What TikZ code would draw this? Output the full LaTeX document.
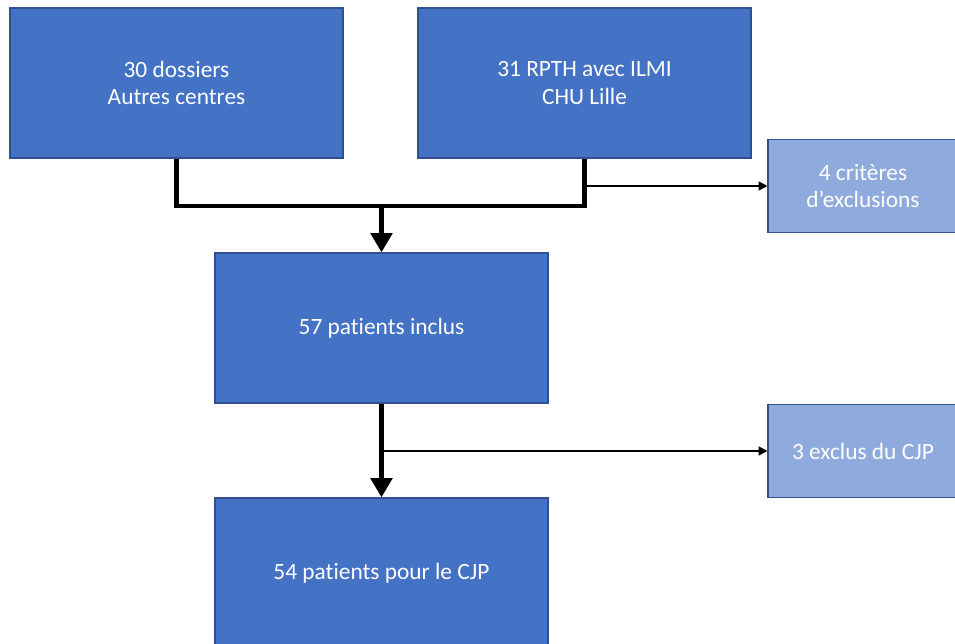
\documentclass[tikz,border=0pt]{standalone}
\usepackage{fontspec}
\setmainfont{Carlito}[Ligatures=NoCommon]
\usetikzlibrary{arrows.meta}

\definecolor{darkbox}{HTML}{4472C4}
\definecolor{lightbox}{HTML}{8FAADC}
\definecolor{boxline}{HTML}{2F528F}

\tikzset{
	mainbox/.style={shape=rectangle, draw=boxline, line width=0.6pt, fill=darkbox, text=white,
		minimum width=6.66cm, minimum height=3cm, align=center, font=\fontsize{13.3}{15.4}\selectfont},
	sidebox/.style={mainbox, fill=lightbox, minimum width=3.8cm, minimum height=1.86cm},
	bigline/.style={line width=2.8pt, line join=miter},
	bigarrow/.style={bigline, -{Triangle[length=11pt, width=12pt]}},
	smallarrow/.style={line width=1pt, -{Triangle[length=5pt, width=5pt]}}
}

\begin{document}
\begin{tikzpicture}
	\useasboundingbox (0,0) rectangle (19.1,12.88);
	
	\node[mainbox] (autres) at (3.53, 11.22) {30 dossiers\\Autres centres};
	\node[mainbox] (lille) at (11.69, 11.22) {31 RPTH avec ILMI\\CHU Lille};
	\node[sidebox] (criteres) at (17.26, 9.16) {4 critères\\d’exclusions};
	\node[mainbox] (inclus) at (7.63, 6.32) {57 patients inclus};
	\node[sidebox] (exclus) at (17.26, 3.86) {3 exclus du CJP};
	\node[mainbox] (cjp) at (7.63, 1.42) {54 patients pour le CJP};
	
	\coordinate (join) at (7.63, 8.76);
	\coordinate (split1) at (11.69, 9.16);
	\coordinate (split2) at (7.63, 3.86);
	
	\draw[bigline] (autres.south) |- (join) -| (lille.south);
	\draw[bigarrow] (join) -- (inclus.north);
	\draw[smallarrow] (split1) -- (criteres.west);
	\draw[bigarrow] (inclus.south) -- (cjp.north);
	\draw[smallarrow] (split2) -- (exclus.west);
	
\end{tikzpicture}
\end{document}
